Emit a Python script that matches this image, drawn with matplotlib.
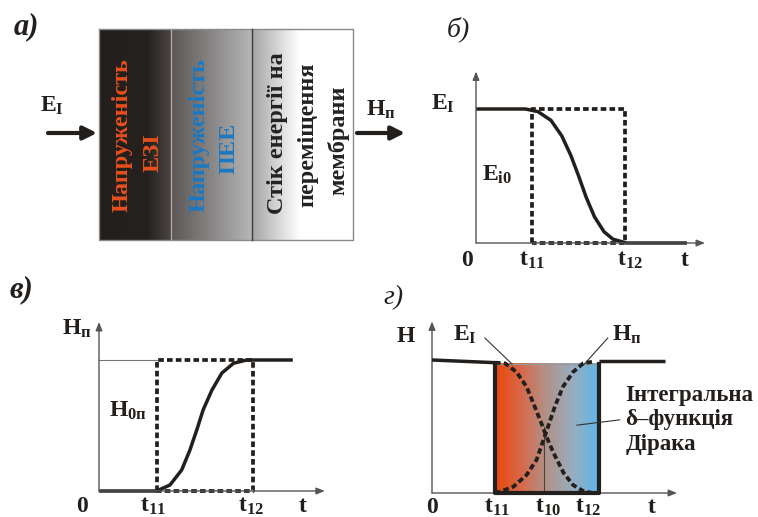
import numpy as np
import matplotlib
matplotlib.use("Agg")
import matplotlib.pyplot as plt
from matplotlib.colors import LinearSegmentedColormap

plt.rcParams['font.family'] = ['Liberation Serif', 'DejaVu Serif']
plt.rcParams['mathtext.fontset'] = 'custom'
plt.rcParams['mathtext.rm'] = 'Liberation Serif:bold'
plt.rcParams['mathtext.it'] = 'Liberation Serif:bold'
plt.rcParams['mathtext.bf'] = 'Liberation Serif:bold'

W, H = 758, 517

# moments on the time axis
t11, t10, t12 = 1.0, 1.78, 2.65

# б) E_I falls to zero between t11 and t12
e_t = [0, 0.88, 1.10, 1.33, 1.52, 1.68, 1.82, 1.95, 2.10, 2.27, 2.43, 2.67, 3.74]
e_v = [1.0, 1.0, 0.98, 0.915, 0.80, 0.655, 0.50, 0.345, 0.196, 0.084, 0.028, 0.0, 0.0]

# в) H_п rises between t11 and t12
h_t = [0, 0.99, 1.22, 1.42, 1.56, 1.68, 1.79, 1.94, 2.11, 2.31, 2.54, 3.33]
h_v = [0.0, 0.0, 0.046, 0.16, 0.31, 0.466, 0.62, 0.77, 0.90, 0.975, 1.0, 1.0]

# г) both curves inside the Dirac box
gE_t = [1.0, 1.16, 1.34, 1.50, 1.63, 1.74, 1.82, 1.93, 2.09, 2.24, 2.40, 2.55]
gE_v = [0.98, 0.975, 0.91, 0.80, 0.65, 0.52, 0.42, 0.30, 0.15, 0.06, 0.015, 0.0]
gH_t = [1.0, 1.08, 1.29, 1.50, 1.66, 1.77, 1.85, 1.95, 2.08, 2.24, 2.40, 2.58]
gH_v = [0.0, 0.01, 0.047, 0.135, 0.25, 0.40, 0.51, 0.65, 0.80, 0.91, 0.975, 0.99]
g_left_t, g_left_v = [0, t11], [1.0, 0.98]
g_right_t, g_right_v = [t12, 3.70], [0.99, 0.99]

INK = '#231f1c'
AX = '#555555'
LBL = 17

fig = plt.figure(figsize=(W / 100, H / 100), dpi=100)

# background axes in pixel units for the block diagram and panel letters
bg = fig.add_axes([0, 0, 1, 1])
bg.set_xlim(0, W)
bg.set_ylim(H, 0)
bg.axis('off')

grad = np.linspace(0, 1, 256)[None, :]
c1 = LinearSegmentedColormap.from_list('c1', [(0, '#231f1c'), (0.68, '#25211e'), (1, '#4a4644')])
c2 = LinearSegmentedColormap.from_list('c2', [(0, '#5a5655'), (1, '#b6b6b6')])
c3 = LinearSegmentedColormap.from_list('c3', [(0, '#a4a4a4'), (0.47, '#ffffff'), (1, '#ffffff')])
bg.imshow(grad, cmap=c1, extent=(99, 171, 240, 29), aspect='auto')
bg.imshow(grad, cmap=c2, extent=(171, 252, 240, 29), aspect='auto')
bg.imshow(grad, cmap=c3, extent=(252, 353, 240, 29), aspect='auto')
bg.plot([99, 353, 353, 99, 99], [29, 29, 240, 240, 29], color='#8a8a8a', lw=1)
bg.plot([171, 171], [29, 240], color='#b5a595', lw=1)
bg.plot([252, 252], [29, 240], color='#3a3a3a', lw=1)
bg.set_xlim(0, W)
bg.set_ylim(H, 0)

box_txt = dict(rotation=90, ha='center', va='center', fontweight='bold', fontsize=17.5)
bg.text(122, 135, 'Напруженість', color='#e8501c', **box_txt)
bg.text(153, 153, 'ЕЗІ', color='#e8501c', **box_txt)
bg.text(199, 135, 'Напруженість', color='#1a78c2', **box_txt)
bg.text(229, 148, 'ПЕЕ', color='#1a78c2', **box_txt)
bg.text(277, 133, 'Стік енергії на', color='#222222', **box_txt)
bg.text(308, 135, 'переміщення', color='#222222', **box_txt)
bg.text(338, 140, 'мембрани', color='#222222', **box_txt)

arr = dict(arrowstyle='-|>,head_length=0.8,head_width=0.4', color=INK, lw=3,
           shrinkA=0, shrinkB=0)
bg.annotate('', xy=(97, 133), xytext=(48, 133), arrowprops=arr)
bg.annotate('', xy=(405, 133), xytext=(357, 133), arrowprops=arr)
bg.text(52, 106, r'$\mathrm{E}_\mathrm{I}$', ha='center', va='center', fontsize=LBL, color=INK)
bg.text(381, 110, r'$\mathrm{H}_\mathrm{п}$', ha='center', va='center', fontsize=LBL, color=INK)

bg.text(26, 27, 'а)', ha='center', va='center', fontsize=22, fontweight='bold', style='italic', color=INK)
bg.text(458, 29, 'б)', ha='center', va='center', fontsize=20, style='italic', color=INK)
bg.text(21, 290, 'в)', ha='center', va='center', fontsize=22, fontweight='bold', style='italic', color=INK)
bg.text(394, 298, 'г)', ha='center', va='center', fontsize=20, style='italic', color=INK)


def panel(ox, oy, sx, sy, xmax, ymax):
    ax = fig.add_axes([ox / W, 1 - oy / H, xmax * sx / W, ymax * sy / H])
    ax.set_xlim(0, xmax)
    ax.set_ylim(0, ymax)
    ax.axis('off')
    a = dict(arrowstyle='-|>,head_length=0.5,head_width=0.2', color=AX, lw=1,
             shrinkA=0, shrinkB=0)
    ax.annotate('', xy=(xmax, 0), xytext=(0, 0), arrowprops=a, annotation_clip=False)
    ax.annotate('', xy=(0, ymax), xytext=(0, 0), arrowprops=a, annotation_clip=False)
    return ax


def lab(ax, x, y, s, **kw):
    ax.text(x, y, s, ha='center', va='center', fontsize=LBL, color=INK, clip_on=False, **kw)


dash = dict(color=INK, lw=2.7, dashes=(1.5, 0.85), clip_on=False)
solid = dict(color=INK, lw=2.5, clip_on=False, solid_capstyle='butt')
box_t = [t11, t11, t12, t12, t11]
box_v = [0, 1, 1, 0, 0]

# б)
ax1 = panel(476, 243, 56.4, 134, 4.06, 1.28)
ax1.plot(box_t, box_v, **dash)
ax1.plot(e_t, e_v, **solid)
lab(ax1, -0.58, 1.04, r'$\mathrm{E}_\mathrm{I}$')
lab(ax1, 0.38, 0.51, r'$\mathrm{E}_\mathrm{i0}$')
for x, s in [(-0.16, '0'), (t11 - 0.01, r'$\mathrm{t}_{11}$'), (t12 + 0.08, r'$\mathrm{t}_{12}$'), (3.7, 't')]:
    lab(ax1, x, -0.13, s, fontweight='bold')

# в)
ax2 = panel(99, 491, 58.2, 131, 3.88, 1.29)
ax2.plot([0, t11], [1, 1], color='#777777', lw=0.8, clip_on=False)
ax2.plot(box_t, box_v, **dash)
ax2.plot(h_t, h_v, **solid)
lab(ax2, -0.38, 1.24, r'$\mathrm{H}_\mathrm{п}$')
lab(ax2, 0.5, 0.61, r'$\mathrm{H}_\mathrm{0п}$')
for x, s in [(-0.29, '0'), (0.93, r'$\mathrm{t}_{11}$'), (2.61, r'$\mathrm{t}_{12}$'), (3.49, 't')]:
    lab(ax2, x, -0.12, s, fontweight='bold')

# г)
ax3 = panel(432, 493, 63, 133, 3.89, 1.29)
dirac = LinearSegmentedColormap.from_list('dirac', ['#e9470a', '#d7684a', '#b1938a', '#97aec0', '#5fb6ea'])
ax3.imshow(grad, cmap=dirac, extent=(t11, t12, 0, 0.97), aspect='auto', zorder=1)
ax3.set_xlim(0, 3.89)
ax3.set_ylim(0, 1.29)
ax3.plot([t11, t12], [0.97, 0.97], color='#999999', lw=1, zorder=2)
ax3.plot([t11, t11, t12, t12], [0.97, 0, 0, 0.97], color=INK, lw=3, zorder=3, clip_on=False)
ax3.plot([t10, t10], [0, 0.5], color='#444444', lw=0.8, zorder=2)
ax3.plot(gE_t, gE_v, zorder=4, **dash)
ax3.plot(gH_t, gH_v, zorder=4, **dash)
ax3.plot(g_left_t, g_left_v, zorder=4, **solid)
ax3.plot(g_right_t, g_right_v, zorder=4, **solid)
ax3.plot([0.84, 1.27], [1.165, 0.97], color='#333333', lw=0.8, clip_on=False)
ax3.plot([2.79, 2.40], [1.165, 0.96], color='#333333', lw=0.8, clip_on=False)
ax3.plot([2.98, 2.30], [0.55, 0.51], color='#333333', lw=0.8, clip_on=False, zorder=5)
lab(ax3, -0.41, 1.18, 'H', fontweight='bold')
lab(ax3, 0.53, 1.19, r'$\mathrm{E}_\mathrm{I}$')
lab(ax3, 3.1, 1.19, r'$\mathrm{H}_\mathrm{п}$')
ax3.text(3.07, 0.55, 'Інтегральна\nδ–функція\nДірака', ha='left', va='center', fontsize=16.5,
         fontweight='bold', color=INK, linespacing=1.2, clip_on=False)
for x, s in [(0.0, '0'), (1.03, r'$\mathrm{t}_{11}$'), (1.84, r'$\mathrm{t}_{10}$'),
             (2.48, r'$\mathrm{t}_{12}$'), (3.49, 't')]:
    lab(ax3, x, -0.11, s, fontweight='bold')

fig.savefig('out.png', dpi=100)
